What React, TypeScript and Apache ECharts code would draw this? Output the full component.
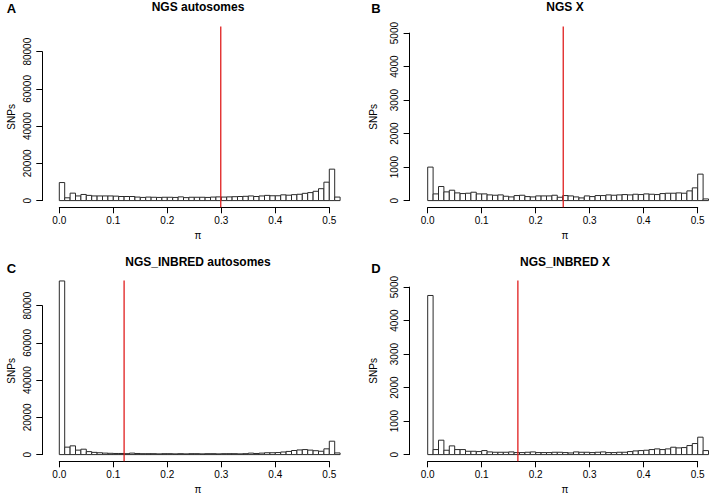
import React, { useEffect, useRef } from "react";
import * as echarts from "echarts";

// ---------- data ----------
const binStarts = [
  0.0, 0.01, 0.02, 0.03, 0.04, 0.05, 0.06, 0.07, 0.08, 0.09,
  0.1, 0.11, 0.12, 0.13, 0.14, 0.15, 0.16, 0.17, 0.18, 0.19,
  0.2, 0.21, 0.22, 0.23, 0.24, 0.25, 0.26, 0.27, 0.28, 0.29,
  0.3, 0.31, 0.32, 0.33, 0.34, 0.35, 0.36, 0.37, 0.38, 0.39,
  0.4, 0.41, 0.42, 0.43, 0.44, 0.45, 0.46, 0.47, 0.48, 0.49,
  0.5, 0.51,
];
const BIN_WIDTH = 0.01;

const ngsAutosomes = [
  9700, 1500, 4000, 2500, 3300, 2800, 2500, 2500, 2500, 2500,
  2400, 2200, 2200, 2200, 1900, 1700, 1900, 1800, 1700, 1800,
  1800, 1700, 2000, 1600, 1800, 1800, 1800, 1700, 1900, 2000,
  1900, 2000, 2100, 2200, 2300, 2500, 2200, 2500, 2800, 2600,
  2600, 3100, 2900, 3200, 3400, 3900, 4300, 5000, 6400, 9900,
  16900, 1900,
];
const ngsX = [
  1000, 200, 420, 260, 310, 230, 210, 220, 250, 200,
  200, 170, 160, 170, 130, 110, 150, 160, 120, 110,
  140, 140, 140, 160, 100, 150, 140, 110, 80, 140,
  120, 150, 150, 170, 160, 170, 180, 170, 190, 180,
  200, 190, 180, 210, 220, 220, 230, 220, 290, 380,
  790, 50,
];
const inbredAutosomes = [
  93300, 4000, 4700, 2400, 2900, 1600, 1200, 1000, 800, 700,
  600, 600, 500, 800, 600, 500, 500, 500, 400, 500,
  500, 400, 500, 400, 500, 500, 400, 500, 500, 400,
  500, 500, 500, 400, 500, 800, 600, 800, 1000, 1000,
  1100, 1400, 1700, 2200, 2500, 2700, 2400, 2100, 1800, 3100,
  7200, 900,
];
const inbredX = [
  4750, 150, 430, 130, 260, 150, 150, 100, 100, 90,
  120, 80, 70, 70, 70, 80, 60, 60, 70, 80,
  60, 60, 60, 70, 70, 60, 50, 80, 70, 70,
  60, 70, 80, 60, 60, 70, 70, 90, 110, 120,
  130, 150, 170, 150, 170, 220, 200, 210, 270, 330,
  520, 120,
];

const piLineA = 0.299;
const piLineB = 0.251;
const piLineC = 0.12;
const piLineD = 0.167;

const xTickMax = 0.5;
const xTickStep = 0.1;
const xPlotMax = 0.52;

const autoYMax = 80000;
const autoYStep = 20000;
const autoYLim = 90000;
const chrXYMax = 5000;
const chrXYStep = 1000;
const chrXYLim = 5000;

const panelLetters = ["A", "B", "C", "D"];
const panelTitles = ["NGS autosomes", "NGS X", "NGS_INBRED autosomes", "NGS_INBRED X"];
const yLabel = "SNPs";
const xLabel = "π";

// ---------- layout ----------
const FONT = '"Liberation Sans", Arial, Helvetica, sans-serif';
const colYAxisX = [42.3, 409.6];
const colPlotLeft = [59.3, 427.7];
const PX_PER_UNIT = 540;
const rowTop = [26.4, 280.4];
const PLOT_H = 180.9;

export default function App() {
  const ref = useRef<HTMLDivElement>(null);

  useEffect(() => {
    if (!ref.current) return;
    const chart = echarts.init(ref.current, undefined, { renderer: "svg" });

    const panels = [
      { data: ngsAutosomes, red: piLineA, yMax: autoYMax, yStep: autoYStep, yLim: autoYLim, col: 0, row: 0 },
      { data: ngsX, red: piLineB, yMax: chrXYMax, yStep: chrXYStep, yLim: chrXYLim, col: 1, row: 0 },
      { data: inbredAutosomes, red: piLineC, yMax: autoYMax, yStep: autoYStep, yLim: autoYLim, col: 0, row: 1 },
      { data: inbredX, red: piLineD, yMax: chrXYMax, yStep: chrXYStep, yLim: chrXYLim, col: 1, row: 1 },
    ];

    const grids: any[] = [];
    const xAxes: any[] = [];
    const yAxes: any[] = [];
    const series: any[] = [];
    const graphics: any[] = [];

    const hiddenAxis = (extra: any) => ({
      show: false,
      type: "value",
      splitLine: { show: false },
      ...extra,
    });

    const titleY = [6.7, 262.3];
    const letterY = [8.5, 268];
    const titleX = [198, 565];
    const letterX = [11.5, 376];
    const snpX = [11, 373];
    const piY = [235.5, 489.5];

    panels.forEach((p, i) => {
      const yLo = -0.04 * p.yLim;
      const yHi = 1.04 * p.yLim;
      const top = rowTop[p.row];
      const bottom = top + PLOT_H;
      const left = colPlotLeft[p.col];
      const yPos = (v: number) => top + (PLOT_H * (yHi - v)) / (yHi - yLo);

      // plot grid
      const gPlot = grids.length;
      grids.push({ left, top, width: xPlotMax * PX_PER_UNIT, height: PLOT_H, containLabel: false });
      xAxes.push(hiddenAxis({ gridIndex: gPlot, min: 0, max: xPlotMax }));
      yAxes.push(hiddenAxis({ gridIndex: gPlot, min: yLo, max: yHi }));

      // x axis grid
      const gX = grids.length;
      grids.push({ left, top: bottom - 1, width: xTickMax * PX_PER_UNIT, height: 1 });
      xAxes.push({
        gridIndex: gX,
        type: "value",
        position: "bottom",
        min: 0,
        max: xTickMax,
        interval: xTickStep,
        axisLine: { show: true, onZero: false, lineStyle: { color: "#000", width: 1 } },
        axisTick: { show: true, inside: false, length: 6, lineStyle: { color: "#000", width: 1 } },
        axisLabel: {
          show: true,
          margin: 8,
          color: "#000",
          fontSize: 10,
          fontFamily: FONT,
          showMinLabel: true,
          showMaxLabel: true,
          formatter: (v: number) => v.toFixed(1),
        },
        splitLine: { show: false },
      });
      yAxes.push(hiddenAxis({ gridIndex: gX, min: 0, max: 1 }));

      // y axis grid
      const gY = grids.length;
      grids.push({ left: colYAxisX[p.col], top: yPos(p.yMax), width: 1, height: yPos(0) - yPos(p.yMax) });
      xAxes.push(hiddenAxis({ gridIndex: gY, min: 0, max: 1 }));
      yAxes.push({
        gridIndex: gY,
        type: "value",
        position: "left",
        min: 0,
        max: p.yMax,
        interval: p.yStep,
        axisLine: { show: true, onZero: false, lineStyle: { color: "#000", width: 1 } },
        axisTick: { show: true, inside: false, length: 6, lineStyle: { color: "#000", width: 1 } },
        axisLabel: {
          show: true,
          rotate: 90,
          margin: 10,
          color: "#000",
          fontSize: 10,
          fontFamily: FONT,
          showMinLabel: true,
          showMaxLabel: true,
          formatter: (v: number) => String(v),
        },
        splitLine: { show: false },
      });

      // histogram bars
      series.push({
        type: "custom",
        xAxisIndex: gPlot,
        yAxisIndex: gPlot,
        clip: false,
        silent: true,
        data: binStarts.map((b, k) => [b, p.data[k]]),
        encode: { x: 0, y: 1 },
        renderItem: (_params: any, api: any) => {
          const x0 = api.value(0);
          const v = api.value(1);
          const p0 = api.coord([x0, 0]);
          const p1 = api.coord([x0 + BIN_WIDTH, v]);
          return {
            type: "rect",
            shape: { x: p0[0], y: p1[1], width: p1[0] - p0[0], height: p0[1] - p1[1] },
            style: { fill: "#ffffff", stroke: "#2a2a2a", lineWidth: 1 },
          };
        },
      });

      // red vertical line
      series.push({
        type: "line",
        xAxisIndex: gPlot,
        yAxisIndex: gPlot,
        silent: true,
        symbol: "none",
        data: [
          [p.red, yLo],
          [p.red, yHi],
        ],
        lineStyle: { color: "#e01e1e", width: 1.3 },
        z: 5,
      });

      const midY = top + PLOT_H / 2;
      // title
      graphics.push({
        type: "text",
        x: titleX[p.col],
        y: titleY[p.row],
        style: {
          text: panelTitles[i],
          font: `bold 12px ${FONT}`,
          fill: "#000",
          textAlign: "center",
          textVerticalAlign: "middle",
          align: "center",
          verticalAlign: "middle",
        },
      });
      // letter
      graphics.push({
        type: "text",
        x: letterX[p.col],
        y: letterY[p.row],
        style: {
          text: panelLetters[i],
          font: `bold 13px ${FONT}`,
          fill: "#000",
          textAlign: "center",
          textVerticalAlign: "middle",
          align: "center",
          verticalAlign: "middle",
        },
      });
      // y label
      graphics.push({
        type: "text",
        x: snpX[p.col],
        y: midY,
        rotation: Math.PI / 2,
        style: {
          text: yLabel,
          font: `10px ${FONT}`,
          fill: "#000",
          textAlign: "center",
          textVerticalAlign: "middle",
          align: "center",
          verticalAlign: "middle",
        },
      });
      // x label
      graphics.push({
        type: "text",
        x: titleX[p.col],
        y: piY[p.row],
        style: {
          text: xLabel,
          font: `10px ${FONT}`,
          fill: "#000",
          textAlign: "center",
          textVerticalAlign: "middle",
          align: "center",
          verticalAlign: "middle",
        },
      });
    });

    chart.setOption({
      animation: false,
      backgroundColor: "#ffffff",
      grid: grids,
      xAxis: xAxes,
      yAxis: yAxes,
      series,
      graphic: { elements: graphics },
    });

    return () => chart.dispose();
  }, []);

  return (
    <div
      ref={ref}
      style={{ position: "fixed", left: 0, top: 0, width: 720, height: 498, background: "#fff" }}
    />
  );
}
